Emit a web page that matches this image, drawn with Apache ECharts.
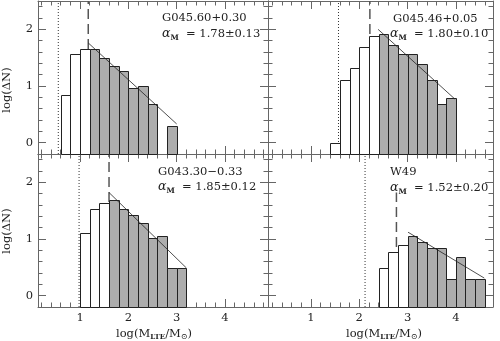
<!DOCTYPE html>
<html><head><meta charset="utf-8">
<script src="https://cdn.jsdelivr.net/npm/echarts@6/dist/echarts.min.js"></script>
<style>html,body{margin:0;padding:0;background:#fff}#c{width:500px;height:341px}</style>
</head><body><div id="c"></div>
<script>
// ---- data ----
const xMajorTicks = [1, 2, 3, 4];
const xLabels = [1, 2, 3, 4];
const yMajorTicks = [0, 1, 2];
const yLabels = [0, 1, 2];
const panelNames = ['G045.60+0.30', 'G045.46+0.05', 'G043.30\u22120.33', 'W49'];
const alphaValues = ['1.78\u00b10.13', '1.80\u00b10.10', '1.85\u00b10.12', '1.52\u00b10.20'];
const binWidth = 0.2;
// bin left edges and log(dN) heights
const binsTL = [0.6, 0.8, 1.0, 1.2, 1.4, 1.6, 1.8, 2.0, 2.2, 2.4, 2.6, 2.8];
const valsTL = [0.84, 1.56, 1.65, 1.66, 1.50, 1.36, 1.26, 0.96, 1.00, 0.69, null, 0.30];
const binsTR = [1.4, 1.6, 1.8, 2.0, 2.2, 2.4, 2.6, 2.8, 3.0, 3.2, 3.4, 3.6, 3.8];
const valsTR = [0.00, 1.11, 1.32, 1.68, 1.88, 1.91, 1.72, 1.56, 1.56, 1.38, 1.11, 0.69, 0.78];
const binsBL = [1.0, 1.2, 1.4, 1.6, 1.8, 2.0, 2.2, 2.4, 2.6, 2.8, 3.0];
const valsBL = [1.11, 1.53, 1.64, 1.69, 1.53, 1.42, 1.29, 1.01, 1.05, 0.49, 0.49];
const binsBR = [2.4, 2.6, 2.8, 3.0, 3.2, 3.4, 3.6, 3.8, 4.0, 4.2, 4.4];
const valsBR = [0.48, 0.77, 0.89, 1.05, 0.95, 0.84, 0.84, 0.29, 0.69, 0.29, 0.29];
const grayFrom = [1.2, 2.4, 1.6, 3.0];          // first fitted (gray) bin
const completeness = [1.17, 2.22, 1.60, 2.77];  // dashed lines
const dashedTop = [2.5, 2.5, 2.5, 1.82];
const sensitivity = [0.55, 1.57, 0.98, 2.12];   // dotted lines
const fitTL = [[1.17, 1.76], [3.00, 0.33]];
const fitTR = [[2.39, 2.00], [3.98, 0.77]];
const fitBL = [[1.60, 1.82], [3.20, 0.49]];
const fitBR = [[3.01, 1.12], [4.59, 0.31]];

// ---- layout ----
const bins = [binsTL, binsTR, binsBL, binsBR];
const vals = [valsTL, valsTR, valsBL, valsBR];
const fits = [fitTL, fitTR, fitBL, fitBR];
const AX = '#666', TXT = '#222', FONT = 'DejaVu Serif', FS = 11.5;
const grids = [
  {left: 38, top: 1, width: 230, height: 153},
  {left: 268, top: 1, width: 225, height: 153},
  {left: 38, top: 154, width: 230, height: 153},
  {left: 268, top: 154, width: 225, height: 153}
];
const xRanges = [[0.13, 4.89], [0.11, 4.77], [0.13, 4.89], [0.11, 4.77]];
const yRange = [-0.2, 2.5];
const xMinor = [];
for (let k = 1; k <= 24; k++) { const v = +(k * 0.2).toFixed(1); if (Math.abs(v - Math.round(v)) > 1e-6) xMinor.push(v); }
const yMinor = [];
for (let k = 1; k <= 12; k++) { const v = +(k * 0.2).toFixed(1); if (Math.abs(v - Math.round(v)) > 1e-6) yMinor.push(v); }

const xAxes = [], yAxes = [];
for (let g = 0; g < 4; g++) {
  ['bottom', 'top'].forEach(pos => {
    [true, false].forEach(major => {
      const lab = major && pos === 'bottom' && g >= 2;
      xAxes.push({
        gridIndex: g, type: 'value', position: pos, min: xRanges[g][0], max: xRanges[g][1],
        axisLine: {show: major, onZero: false, lineStyle: {color: AX, width: 1}},
        axisTick: {show: true, inside: true, length: major ? 8 : 4.5, customValues: major ? xMajorTicks : xMinor, lineStyle: {color: AX, width: 1}},
        axisLabel: {show: lab, customValues: xLabels, margin: 5, color: TXT, fontFamily: FONT, fontSize: FS},
        splitLine: {show: false}
      });
    });
  });
  ['left', 'right'].forEach(pos => {
    [true, false].forEach(major => {
      const lab = major && pos === 'left' && (g === 0 || g === 2);
      yAxes.push({
        gridIndex: g, type: 'value', position: pos, min: yRange[0], max: yRange[1],
        axisLine: {show: major, onZero: false, lineStyle: {color: AX, width: 1}},
        axisTick: {show: true, inside: true, length: major ? 8 : 4.5, customValues: major ? yMajorTicks : yMinor, lineStyle: {color: AX, width: 1}},
        axisLabel: {show: lab, customValues: yLabels, margin: 5, color: TXT, fontFamily: FONT, fontSize: FS},
        splitLine: {show: false}
      });
    });
  });
}

const series = [];
for (let g = 0; g < 4; g++) {
  const xi = g * 4, yi = g * 4;
  series.push({
    type: 'line', xAxisIndex: xi, yAxisIndex: yi, symbol: 'none', silent: true, z: 1,
    data: [[sensitivity[g], yRange[0]], [sensitivity[g], yRange[1]]],
    lineStyle: {color: '#333', width: 1, type: [1, 2]}
  });
  series.push({
    type: 'line', xAxisIndex: xi, yAxisIndex: yi, symbol: 'none', silent: true, z: 1,
    data: [[completeness[g], yRange[0]], [completeness[g], dashedTop[g]]],
    lineStyle: {color: '#555', width: 1.5, type: [10, 5]}
  });
  const data = [];
  bins[g].forEach((b, i) => { if (vals[g][i] !== null) data.push([b, vals[g][i]]); });
  const gf = grayFrom[g];
  series.push({
    type: 'custom', xAxisIndex: xi, yAxisIndex: yi, z: 3, silent: true,
    data: data, encode: {x: 0, y: 1},
    renderItem: function (params, api) {
      const x0 = api.value(0), h = api.value(1);
      const p0 = api.coord([x0, yRange[0]]);
      const p1 = api.coord([x0 + binWidth, h]);
      const xa = Math.round(p0[0]) + 0.5, xb = Math.round(p1[0]) + 0.5;
      const yt = Math.round(p1[1]) + 0.5, yb = Math.round(p0[1]) + 0.5;
      return {
        type: 'rect',
        shape: {x: xa, y: yt, width: xb - xa, height: yb - yt},
        style: {fill: x0 >= gf - 1e-6 ? '#adadad' : '#ffffff', stroke: '#222', lineWidth: 1}
      };
    }
  });
  series.push({
    type: 'line', xAxisIndex: xi, yAxisIndex: yi, symbol: 'none', silent: true, z: 5,
    data: fits[g], lineStyle: {color: '#222', width: 0.8}
  });
}

// ---- text layout helpers (baseline-aligned pieces) ----
const mctx = document.createElement('canvas').getContext('2d');
function fontStr(p) { return (p.italic ? 'italic ' : '') + (p.bold ? 'bold ' : '') + p.size + 'px "' + FONT + '"'; }
function measure(p) { mctx.font = fontStr(p); return mctx.measureText(p.t).width; }
function layoutPieces(list, x, baseline, center) {
  const widths = list.map(measure);
  if (center) x -= widths.reduce((a, b) => a + b, 0) / 2;
  return list.map((p, i) => {
    const el = {
      type: 'text', x: x, y: baseline + (p.dy || 0) - 0.3 * p.size, silent: true, z: 10,
      style: {text: p.t, fill: TXT, font: fontStr(p), align: 'left', verticalAlign: 'middle'}
    };
    x += widths[i];
    return el;
  });
}

const namePos = [[162, 21.7], [393, 22.4], [158, 175], [390, 175]];
const alphaPos = [[162, 37.2], [390, 37], [158, 190.3], [390, 191]];
let graphics = [];
for (let g = 0; g < 4; g++) {
  graphics = graphics.concat(layoutPieces([{t: panelNames[g], size: FS}], namePos[g][0], namePos[g][1], false));
  graphics = graphics.concat(layoutPieces([
    {t: '\u03b1', size: 12.5, italic: true},
    {t: 'M', size: 7.5, bold: true, dy: 2.8},
    {t: '  = ' + alphaValues[g], size: FS}
  ], alphaPos[g][0], alphaPos[g][1], false));
}
[154, 384].forEach(cx => {
  graphics = graphics.concat(layoutPieces([
    {t: 'log(M', size: FS},
    {t: 'LTE', size: 7, bold: true, dy: 2.5},
    {t: '/M', size: FS},
    {t: '\u2299', size: 8, dy: 2.5},
    {t: ')', size: FS}
  ], cx, 337, true));
});
[[7.5, 90], [7.5, 231]].forEach(p => {
  graphics.push({
    type: 'text', x: p[0], y: p[1], rotation: Math.PI / 2, silent: true,
    style: {text: 'log(\u0394N)', fill: TXT, fontFamily: FONT, fontSize: FS, align: 'center', verticalAlign: 'middle'}
  });
});

const chart = echarts.init(document.getElementById('c'));
chart.setOption({
  animation: false,
  backgroundColor: '#fff',
  textStyle: {fontFamily: FONT},
  grid: grids,
  xAxis: xAxes,
  yAxis: yAxes,
  series: series,
  graphic: graphics
});
</script>
</body></html>
